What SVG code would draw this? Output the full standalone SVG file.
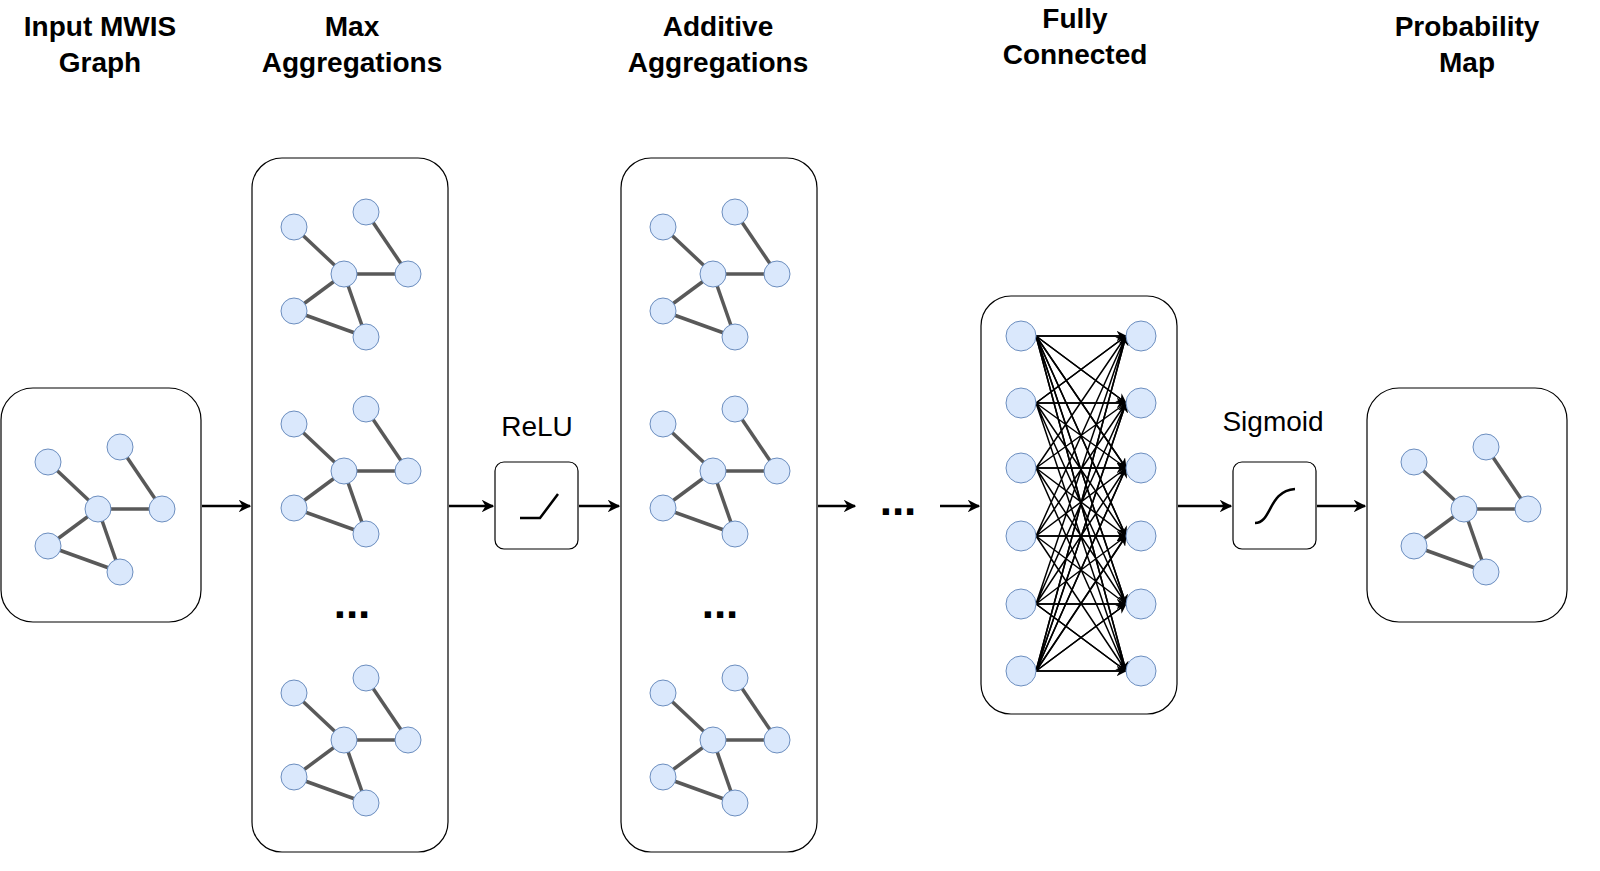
<svg xmlns="http://www.w3.org/2000/svg" width="1600" height="871" viewBox="0 0 1600 871">
<defs>
<style>
.box{fill:#fff;stroke:#000;stroke-width:1.2}
.n{fill:#dae8fc;stroke:#6c8ebf;stroke-width:1}
.e{stroke:#595959;stroke-width:3.5}
.t{font-family:"Liberation Sans",Arial,sans-serif;font-weight:bold;font-size:28px;text-anchor:middle;fill:#000}
.d{font-family:"Liberation Sans",Arial,sans-serif;font-weight:bold;font-size:44px;text-anchor:middle;fill:#000}
.l{font-family:"Liberation Sans",Arial,sans-serif;font-size:28px;text-anchor:middle;fill:#000}
.a{stroke:#000;stroke-width:2.5;fill:none;marker-end:url(#ah)}
.f{stroke:#000;stroke-width:1.5;marker-end:url(#fh)}
</style>
<marker id="ah" viewBox="0 0 10 10" refX="9" refY="5" markerWidth="5" markerHeight="5" orient="auto" markerUnits="strokeWidth"><path d="M0,0 L10,5 L0,10 L3,5 z" fill="#000"/></marker>
<marker id="fh" viewBox="0 0 10 10" refX="9" refY="5" markerWidth="7" markerHeight="7" orient="auto" markerUnits="strokeWidth"><path d="M0,0 L10,5 L0,10 L3,5 z" fill="#000"/></marker>
<g id="motif">
<line class="e" x1="-50" y1="-47" x2="0" y2="0"/><line class="e" x1="22" y1="-62" x2="64" y2="0"/>
<line class="e" x1="0" y1="0" x2="64" y2="0"/><line class="e" x1="0" y1="0" x2="-50" y2="37"/>
<line class="e" x1="0" y1="0" x2="22" y2="63"/><line class="e" x1="-50" y1="37" x2="22" y2="63"/>
<circle class="n" cx="-50" cy="-47" r="13"/><circle class="n" cx="22" cy="-62" r="13"/>
<circle class="n" cx="0" cy="0" r="13"/><circle class="n" cx="64" cy="0" r="13"/>
<circle class="n" cx="-50" cy="37" r="13"/><circle class="n" cx="22" cy="63" r="13"/>
</g>
</defs>
<rect width="1600" height="871" fill="#fff"/>
<g id="titles">
<text class="t" x="100" y="36">Input MWIS</text><text class="t" x="100" y="72">Graph</text>
<text class="t" x="352" y="36">Max</text><text class="t" x="352" y="72">Aggregations</text>
<text class="t" x="718" y="36">Additive</text><text class="t" x="718" y="72">Aggregations</text>
<text class="t" x="1075" y="28">Fully</text><text class="t" x="1075" y="64">Connected</text>
<text class="t" x="1467" y="36">Probability</text><text class="t" x="1467" y="72">Map</text>
</g>
<g id="input"><rect class="box" x="1" y="388" width="200" height="234" rx="32"/><use href="#motif" x="98" y="509"/></g>
<g id="maxagg"><rect class="box" x="252" y="158" width="196" height="694" rx="30"/>
<use href="#motif" x="344" y="274"/><use href="#motif" x="344" y="471"/><use href="#motif" x="344" y="740"/>
<text class="d" x="352" y="618">...</text></g>
<g id="relu"><text class="l" x="537" y="436">ReLU</text><rect class="box" x="495" y="462" width="83" height="87" rx="9"/>
<polyline points="520,518 540,518 558,494" fill="none" stroke="#000" stroke-width="2.5"/></g>
<g id="addagg"><rect class="box" x="621" y="158" width="196" height="694" rx="30"/>
<use href="#motif" x="713" y="274"/><use href="#motif" x="713" y="471"/><use href="#motif" x="713" y="740"/>
<text class="d" x="720" y="618">...</text></g>
<g id="gap"><text class="d" x="898" y="515">...</text></g>
<g id="fc"><rect class="box" x="981" y="296" width="196" height="418" rx="30"/>
<g id="fcedges">
<path stroke="#000" stroke-width="1.5" d="M1036,336L1126,336M1036,336L1126,403M1036,336L1126,468M1036,336L1126,536M1036,336L1126,604M1036,336L1126,671M1036,403L1126,336M1036,403L1126,403M1036,403L1126,468M1036,403L1126,536M1036,403L1126,604M1036,403L1126,671M1036,468L1126,336M1036,468L1126,403M1036,468L1126,468M1036,468L1126,536M1036,468L1126,604M1036,468L1126,671M1036,536L1126,336M1036,536L1126,403M1036,536L1126,468M1036,536L1126,536M1036,536L1126,604M1036,536L1126,671M1036,604L1126,336M1036,604L1126,403M1036,604L1126,468M1036,604L1126,536M1036,604L1126,604M1036,604L1126,671M1036,671L1126,336M1036,671L1126,403M1036,671L1126,468M1036,671L1126,536M1036,671L1126,604M1036,671L1126,671"/>
<g>
<line class="f" x1="1036" y1="336" x2="1126" y2="336"/><line class="f" x1="1036" y1="403" x2="1126" y2="336"/><line class="f" x1="1036" y1="671" x2="1126" y2="336"/>
<line class="f" x1="1036" y1="403" x2="1126" y2="403"/><line class="f" x1="1036" y1="336" x2="1126" y2="403"/><line class="f" x1="1036" y1="671" x2="1126" y2="403"/>
<line class="f" x1="1036" y1="468" x2="1126" y2="468"/><line class="f" x1="1036" y1="336" x2="1126" y2="468"/><line class="f" x1="1036" y1="671" x2="1126" y2="468"/>
<line class="f" x1="1036" y1="536" x2="1126" y2="536"/><line class="f" x1="1036" y1="336" x2="1126" y2="536"/><line class="f" x1="1036" y1="671" x2="1126" y2="536"/>
<line class="f" x1="1036" y1="604" x2="1126" y2="604"/><line class="f" x1="1036" y1="336" x2="1126" y2="604"/><line class="f" x1="1036" y1="671" x2="1126" y2="604"/>
<line class="f" x1="1036" y1="671" x2="1126" y2="671"/><line class="f" x1="1036" y1="336" x2="1126" y2="671"/><line class="f" x1="1036" y1="604" x2="1126" y2="671"/>
</g></g>
<g fill="#dae8fc" stroke="#6c8ebf">
<circle cx="1021" cy="336" r="15"/><circle cx="1021" cy="403" r="15"/><circle cx="1021" cy="468" r="15"/><circle cx="1021" cy="536" r="15"/><circle cx="1021" cy="604" r="15"/><circle cx="1021" cy="671" r="15"/>
<circle cx="1141" cy="336" r="15"/><circle cx="1141" cy="403" r="15"/><circle cx="1141" cy="468" r="15"/><circle cx="1141" cy="536" r="15"/><circle cx="1141" cy="604" r="15"/><circle cx="1141" cy="671" r="15"/>
</g></g>
<g id="sigmoid"><text class="l" x="1273" y="431">Sigmoid</text><rect class="box" x="1233" y="462" width="83" height="87" rx="9"/>
<path d="M1255,523 C1272,523 1268,491 1295,489" fill="none" stroke="#000" stroke-width="2.5"/></g>
<g id="prob"><rect class="box" x="1367" y="388" width="200" height="234" rx="32"/><use href="#motif" x="1464" y="509"/></g>
<g id="connectors">
<line class="a" x1="202" y1="506" x2="250" y2="506" stroke-width="3.5"/>
<line class="a" x1="449" y1="506" x2="493" y2="506"/>
<line class="a" x1="579" y1="506" x2="619" y2="506"/>
<line class="a" x1="818" y1="506" x2="855" y2="506"/>
<line class="a" x1="940" y1="506" x2="979" y2="506"/>
<line class="a" x1="1178" y1="506" x2="1231" y2="506"/>
<line class="a" x1="1317" y1="506" x2="1365" y2="506"/>
</g>
</svg>
